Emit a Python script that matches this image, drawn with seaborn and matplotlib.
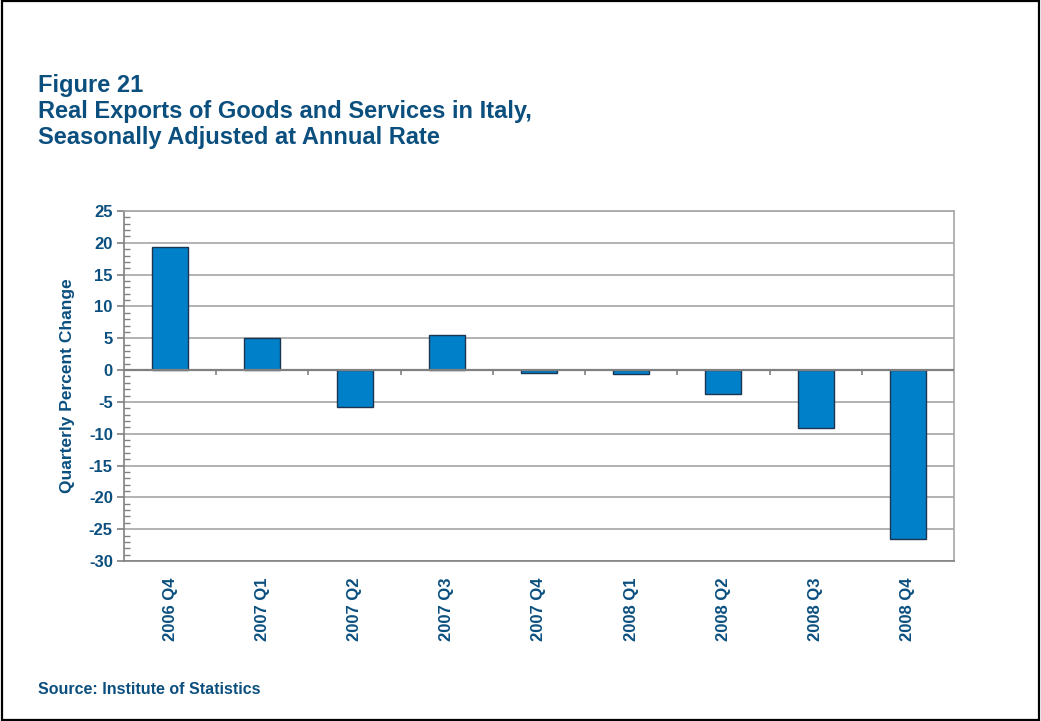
import matplotlib
matplotlib.use("Agg")
import matplotlib.pyplot as plt
from matplotlib.patches import Rectangle
from matplotlib.ticker import MultipleLocator
import numpy as np
import pandas as pd
import seaborn as sns

quarters = ["2006 Q4", "2007 Q1", "2007 Q2", "2007 Q3", "2007 Q4",
            "2008 Q1", "2008 Q2", "2008 Q3", "2008 Q4"]
pct_change = [19.3, 5.0, -5.8, 5.5, -0.5, -0.6, -3.8, -9.1, -26.6]
y_ticks = [25, 20, 15, 10, 5, 0, -5, -10, -15, -20, -25, -30]

sns.set_theme(style="white")
plt.rcParams["font.family"] = ["Liberation Sans", "DejaVu Sans"]
plt.rcParams["axes.unicode_minus"] = False

navy = "#0b4f7f"
bar_blue = "#0080c8"

df = pd.DataFrame({"quarter": quarters, "change": pct_change})

fig = plt.figure(figsize=(10.41, 7.21), dpi=100)
fig.patch.set_facecolor("white")
ax = fig.add_axes([0.1191, 0.2219, 0.7973, 0.4855])

sns.barplot(data=df, x="quarter", y="change", order=quarters, color=bar_blue,
            saturation=1, width=0.39, edgecolor="#1d3550", linewidth=1.0,
            ax=ax, zorder=3)

ax.set_ylim(-30, 25)
ax.set_xlim(-0.5, len(quarters) - 0.5)
ax.set_yticks(y_ticks)
ax.yaxis.set_minor_locator(MultipleLocator(1))
ax.grid(axis="y", which="major", color="#a6a6a6", linewidth=1.2, zorder=0)
ax.axhline(0, color="#808080", linewidth=1.6, zorder=4)

# category boundary ticks hanging below the zero line
bounds = np.arange(len(quarters) - 1) + 0.5
ax.vlines(bounds, -0.75, 0, color="#808080", linewidth=1.2, zorder=4)

for side in ["left", "bottom", "right", "top"]:
    ax.spines[side].set_visible(True)
    ax.spines[side].set_linewidth(1.2)
ax.spines["left"].set_color("#808080")
ax.spines["bottom"].set_color("#808080")
ax.spines["right"].set_color("#a6a6a6")
ax.spines["top"].set_color("#a6a6a6")

ax.tick_params(axis="y", which="major", direction="out", length=5, width=1.2,
               color="#808080", left=True, labelsize=12, labelcolor=navy, pad=3)
ax.tick_params(axis="y", which="minor", direction="in", length=4, width=1.0,
               color="#808080", left=True)
ax.tick_params(axis="x", length=0, labelsize=12, labelcolor=navy, pad=12)
for lbl in ax.get_yticklabels():
    lbl.set_fontweight("bold")
ax.set_xticks(range(len(quarters)))
ax.set_xticklabels(quarters, rotation=90, fontweight="bold")

ax.set_xlabel("")
ax.set_ylabel("Quarterly Percent Change", fontsize=12.5, fontweight="bold",
              color=navy, labelpad=10)

title_lines = ["Figure 21",
               "Real Exports of Goods and Services in Italy,",
               "Seasonally Adjusted at Annual Rate"]
for i, line in enumerate(title_lines):
    fig.text(0.0365, 0.897 - i * 0.0358, line, fontsize=17, fontweight="bold",
             color=navy, va="top")
fig.text(0.0365, 0.043, "Source: Institute of Statistics", fontsize=11.5,
         fontweight="bold", color=navy, va="center")

fig.patches.append(Rectangle((0.0015, 0.002), 0.997, 0.996, transform=fig.transFigure,
                             fill=False, edgecolor="black", linewidth=1.6))

fig.savefig("out.png", dpi=100, facecolor="white")
